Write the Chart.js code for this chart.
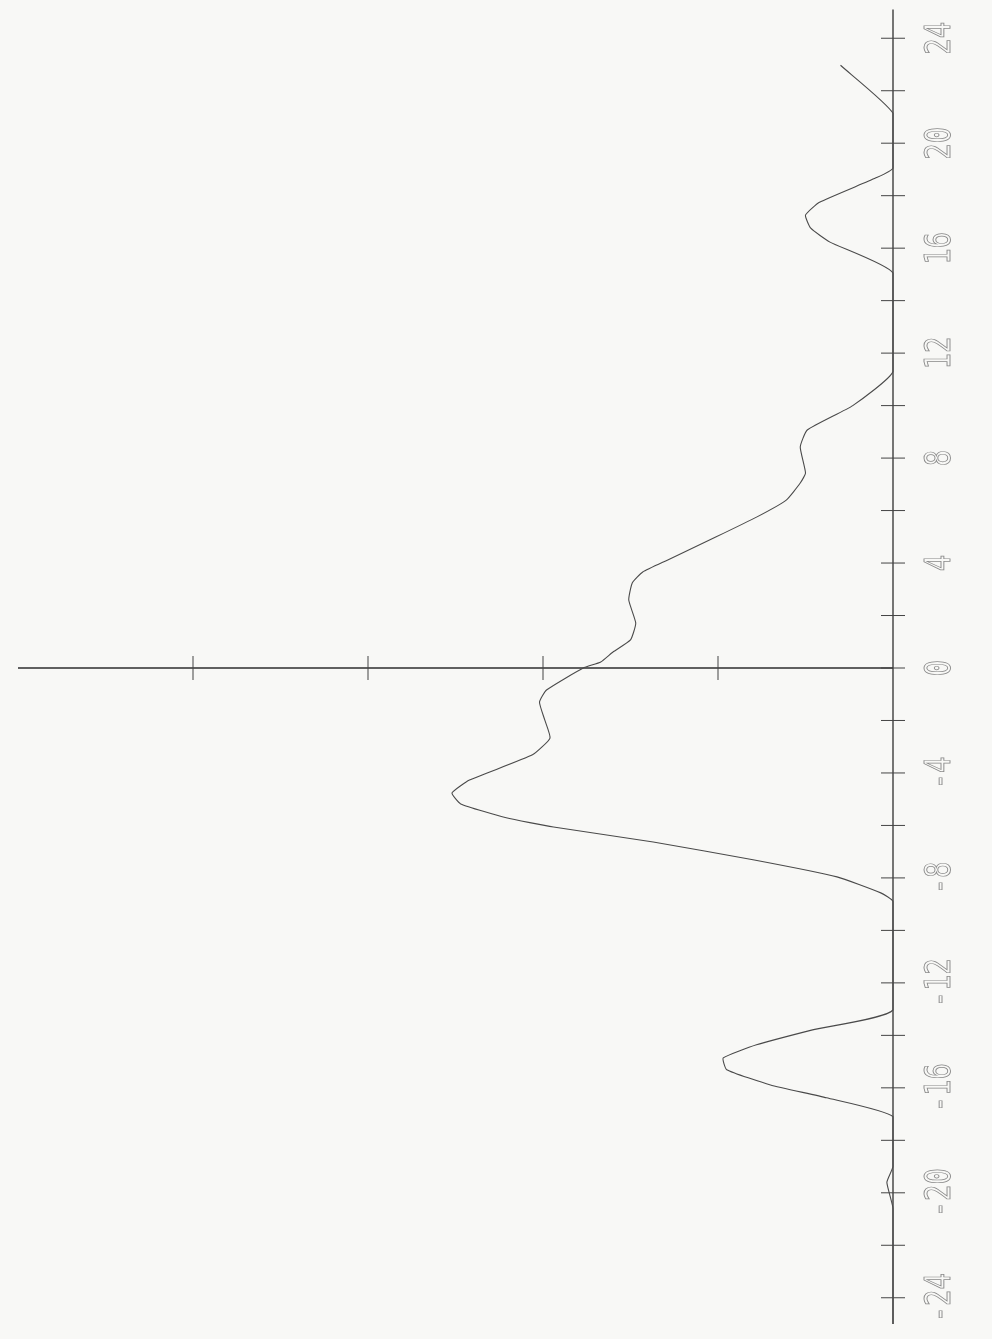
<!DOCTYPE html>
<html>
<head>
<meta charset="utf-8">
<script src="https://cdn.jsdelivr.net/npm/chart.js@4.4.1/dist/chart.umd.min.js"></script>
<style>
  html, body { margin: 0; padding: 0; background: #f8f8f6; }
  #wrap { width: 992px; height: 1339px; position: relative; }
</style>
</head>
<body>
<div id="wrap"><canvas id="grafico"></canvas></div>
<script>
// posicion (eje vertical de la hoja) y amplitud (hacia la izquierda)
const posiciones = [
    -25, -20.6, -19.6, -19.0, -17.1, -16.38, -15.89, -15.31, -14.86, -14.36, -13.79, -13.03,
    -8.9, -8.57, -7.96, -7.31, -6.63, -6.06, -5.71, -5.18, -4.76, -4.27, -3.31, -2.67,
    -1.98, -1.3, -0.84, 0, 0.23, 0.61, 1.07, 1.71, 2.59, 3.24, 3.66, 4.11,
    5.0, 5.75, 6.4, 7.05, 7.43, 8.42, 9.07, 10.0, 11.3,
    15.05, 16.23, 16.76, 17.26, 17.75, 18.67, 19.05, 21.14, 22.97
];
const amplitudes = [
    0, 0, 0.035, 0, 0, 0.38, 0.70, 0.95, 0.97, 0.78, 0.46, 0,
    0, 0.07, 0.32, 0.80, 1.37, 1.94, 2.21, 2.47, 2.52, 2.42, 2.06, 1.96,
    1.99, 2.02, 1.98, 1.77, 1.67, 1.60, 1.50, 1.47, 1.51, 1.49, 1.43, 1.29,
    1.01, 0.78, 0.61, 0.53, 0.50, 0.53, 0.49, 0.23, 0,
    0, 0.36, 0.47, 0.50, 0.42, 0.10, 0, 0, 0.30
];
const marcasPos = [-24, -22, -20, -18, -16, -14, -12, -10, -8, -6, -4, -2, 0, 2, 4, 6, 8, 10, 12, 14, 16, 18, 20, 22, 24];
const etiquetasPos = [-24, -20, -16, -12, -8, -4, 0, 4, 8, 12, 16, 20, 24];
const marcasAmp = [1, 2, 3, 4];

const puntos = posiciones.map((p, i) => ({ x: amplitudes[i], y: p }));

const ejesPlotter = {
    id: 'ejesPlotter',
    beforeDatasetsDraw(chart) {
        const ctx = chart.ctx;
        const sx = chart.scales.x;
        const sy = chart.scales.y;
        const x0 = sx.getPixelForValue(0);
        const y0 = sy.getPixelForValue(0);

        ctx.save();
        ctx.strokeStyle = '#2e2e2e';
        ctx.lineWidth = 1.3;

        // eje de posicion (vertical)
        ctx.beginPath();
        ctx.moveTo(x0, sy.getPixelForValue(25.1));
        ctx.lineTo(x0, sy.getPixelForValue(-25));
        ctx.stroke();

        // eje de amplitud (horizontal)
        ctx.beginPath();
        ctx.moveTo(sx.getPixelForValue(5), y0);
        ctx.lineTo(x0, y0);
        ctx.stroke();

        ctx.lineWidth = 1;
        ctx.strokeStyle = '#444';
        marcasPos.forEach(v => {
            const y = sy.getPixelForValue(v);
            ctx.beginPath();
            ctx.moveTo(x0 - 12, y);
            ctx.lineTo(x0 + 12, y);
            ctx.stroke();
        });
        marcasAmp.forEach(v => {
            const x = sx.getPixelForValue(v);
            ctx.beginPath();
            ctx.moveTo(x, y0 - 12);
            ctx.lineTo(x, y0 + 12);
            ctx.stroke();
        });

        // etiquetas giradas
        ctx.strokeStyle = '#888';
        ctx.lineWidth = 0.9;
        ctx.font = '36px "DejaVu Sans Mono"';
        ctx.textAlign = 'center';
        ctx.textBaseline = 'alphabetic';
        etiquetasPos.forEach(v => {
            const y = sy.getPixelForValue(v);
            ctx.save();
            ctx.translate(x0 + 57, y);
            ctx.rotate(-Math.PI / 2);
            ctx.scale(0.76, 1);
            ctx.strokeText(String(v), 0, 0);
            ctx.restore();
        });
        ctx.restore();
    }
};

new Chart(document.getElementById('grafico'), {
    type: 'scatter',
    data: {
        datasets: [{
            data: puntos,
            showLine: true,
            borderColor: '#4a4a4a',
            borderWidth: 1.1,
            pointRadius: 0,
            tension: 0.15,
            clip: false
        }]
    },
    options: {
        responsive: true,
        maintainAspectRatio: false,
        animation: false,
        layout: { padding: { left: 18, right: 99, top: 12, bottom: 15 } },
        plugins: { legend: { display: false }, tooltip: { enabled: false } },
        scales: {
            x: { type: 'linear', min: 0, max: 5, reverse: true, display: false },
            y: { type: 'linear', min: -25, max: 25, display: false }
        }
    },
    plugins: [ejesPlotter]
});
</script>
</body>
</html>
